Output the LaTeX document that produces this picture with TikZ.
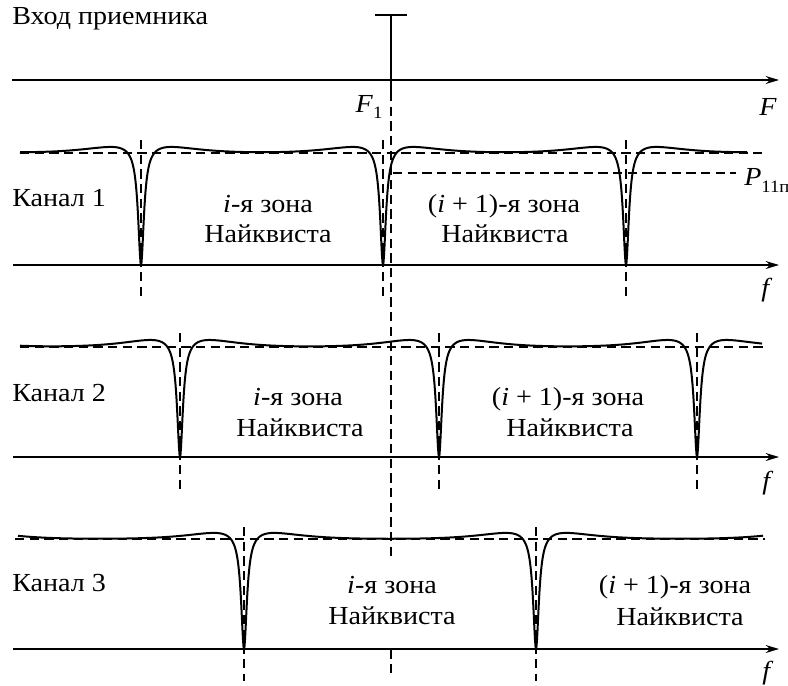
\documentclass[tikz,border=0pt]{standalone}
\usepackage{fontspec}
\setmainfont[FakeStretch=1.08]{Liberation Serif}
\usetikzlibrary{arrows.meta}
\begin{document}
\begin{tikzpicture}[x=0.75pt,y=-0.75pt,
  ax/.style={line width=1.1pt,-{Stealth[length=10pt,width=6pt]}},
  dsh/.style={line width=0.9pt,dash pattern=on 7pt off 4pt},
  crv/.style={line width=1.5pt,line join=round},
  lbl/.style={font=\fontsize{19.5}{24}\selectfont,inner sep=0pt},
  declare function={nt(\d)=1/(1+(min(abs(\d),300)/3.5)^2);
                    bp(\d)=min(abs(\d),300)/22*exp(1-min(abs(\d),300)/22);}]
\useasboundingbox (0,0) rectangle (788,685);

% ---------- top: receiver input ----------
\node[lbl,anchor=base west] (vhod) at (12,25) {Вход приемника};
\coordinate (a0s) at (12,80);
\coordinate (a0e) at (779,80);
\draw[ax] (a0s) -- (a0e);
\node[lbl,anchor=base] (Flab) at (768,115) {\textit{F}};
\coordinate (capL) at (375,15);
\coordinate (capR) at (407,15);
\coordinate (capM) at (391,15);
\coordinate (stemB) at (391,92);
\coordinate (stemE) at (391,677);
\draw[line width=1.3pt] (capL) -- (capR);
\draw[line width=1.3pt] (capM) -- (stemB);
\draw[dsh] (stemB) -- (stemE);
\node[lbl,anchor=base] (F1) at (369,112) {\textit{F}\raisebox{-0.25em}{\fontsize{13}{13}\selectfont 1}};

% ---------- channel 1 ----------
\coordinate (a1s) at (13,265);
\coordinate (a1e) at (779,265);
\draw[ax] (a1s) -- (a1e);
\node[lbl,anchor=base] (f1) at (767,296) {\textit{f}};
\coordinate (l1s) at (20,153);
\coordinate (l1e) at (762,153);
\draw[dsh] (l1s) -- (l1e);
\coordinate (p1s) at (393,173);
\coordinate (p1e) at (736,173);
\draw[dsh] (p1s) -- (p1e);
\node[lbl,anchor=base west] (P) at (744,185) {\textit{P}\raisebox{-0.3em}{\fontsize{13}{13}\selectfont 11п}};
\foreach \n/\xx in {a/141,b/383,c/626}{
  \coordinate (v1\n t) at (\xx,140);
  \coordinate (v1\n b) at (\xx,297);
  \draw[dsh] (v1\n t) -- (v1\n b);
}
\draw[crv] plot[domain=20:747,samples=1455]
  (\x,{265-112*(1-nt(\x-141)-nt(\x-383)-nt(\x-626))
        -8*(bp(\x-141)+bp(\x-383)+bp(\x-626)+bp(\x+102)+bp(\x-869))});
\node[lbl,anchor=base west] (k1) at (12,206) {Канал 1};
\node[lbl,anchor=base] (z1a) at (268,212) {\textit{i}-я зона};
\node[lbl,anchor=base] (z1b) at (268,242) {Найквиста};
\node[lbl,anchor=base] (z1c) at (504,212) {(\textit{i} + 1)-я зона};
\node[lbl,anchor=base] (z1d) at (505,242) {Найквиста};

% ---------- channel 2 ----------
\coordinate (a2s) at (13,457);
\coordinate (a2e) at (779,457);
\draw[ax] (a2s) -- (a2e);
\node[lbl,anchor=base] (f2) at (768,489) {\textit{f}};
\coordinate (l2s) at (20,347);
\coordinate (l2e) at (765,347);
\draw[dsh] (l2s) -- (l2e);
\foreach \n/\xx in {a/180,b/439,c/697}{
  \coordinate (v2\n t) at (\xx,333);
  \coordinate (v2\n b) at (\xx,489);
  \draw[dsh] (v2\n t) -- (v2\n b);
}
\draw[crv] plot[domain=20:762,samples=1485]
  (\x,{457-110*(1-nt(\x-180)-nt(\x-439)-nt(\x-697))
        -9*(bp(\x-180)+bp(\x-439)+bp(\x-697)+bp(\x+78)+bp(\x-955))});
\node[lbl,anchor=base west] (k2) at (12,401) {Канал 2};
\node[lbl,anchor=base] (z2a) at (298,405) {\textit{i}-я зона};
\node[lbl,anchor=base] (z2b) at (300,436) {Найквиста};
\node[lbl,anchor=base] (z2c) at (568,405) {(\textit{i} + 1)-я зона};
\node[lbl,anchor=base] (z2d) at (570,436) {Найквиста};

% ---------- channel 3 ----------
\coordinate (a3s) at (13,649);
\coordinate (a3e) at (779,649);
\draw[ax] (a3s) -- (a3e);
\node[lbl,anchor=base] (f3) at (768,679) {\textit{f}};
\coordinate (l3s) at (15,539);
\coordinate (l3e) at (765,539);
\draw[dsh] (l3s) -- (l3e);
\foreach \n/\xx in {a/244,b/536}{
  \coordinate (v3\n t) at (\xx,527);
  \coordinate (v3\n b) at (\xx,681);
  \draw[dsh] (v3\n t) -- (v3\n b);
}
\draw[crv] plot[domain=18:763,samples=1491]
  (\x,{649-110*(1-nt(\x-244)-nt(\x-536))
        -8*(bp(\x-244)+bp(\x-536)+bp(\x+48)+bp(\x-828))});
\node[lbl,anchor=base west] (k3) at (12,591) {Канал 3};
\node[fill=white,inner sep=0pt,minimum width=98pt*0.75,minimum height=88pt*0.75] (z3bg) at (391,601) {};
\node[lbl,anchor=base] (z3a) at (392,593) {\textit{i}-я зона};
\node[lbl,anchor=base] (z3b) at (392,624) {Найквиста};
\node[lbl,anchor=base] (z3c) at (675,593) {(\textit{i} + 1)-я зона};
\node[lbl,anchor=base] (z3d) at (680,625) {Найквиста};
\end{tikzpicture}
\end{document}
